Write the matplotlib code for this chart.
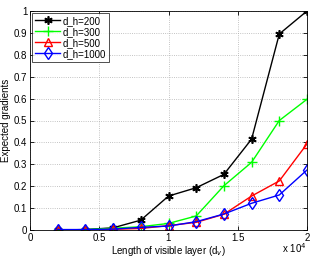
import matplotlib.pyplot as plt
from matplotlib.ticker import FuncFormatter

# length of visible layer d_v
d_v = [2000, 4000, 6000, 8000, 10000, 12000, 14000, 16000, 18000, 20000]
# expected gradients for each hidden layer size
g_200 = [0.0, 0.002, 0.010, 0.045, 0.155, 0.193, 0.254, 0.415, 0.895, 1.0]
g_300 = [0.0, 0.002, 0.008, 0.015, 0.030, 0.064, 0.202, 0.309, 0.500, 0.597]
g_500 = [0.0, 0.0, 0.003, 0.007, 0.020, 0.035, 0.072, 0.155, 0.224, 0.393]
g_1000 = [0.002, 0.002, 0.004, 0.012, 0.018, 0.038, 0.073, 0.122, 0.160, 0.274]
labels = ['d_h=200', 'd_h=300', 'd_h=500', 'd_h=1000']

plt.rcParams['font.family'] = ['Liberation Sans', 'DejaVu Sans']
fs = 7

fig = plt.figure(figsize=(3.16, 2.57), dpi=100)
ax = fig.add_axes([30 / 316, 27 / 257, 277 / 316, 219 / 257])

ax.plot(d_v, g_200, color='k', marker=(6, 2, 0), ms=6, mew=1.2, lw=1, label=labels[0])
ax.plot(d_v, g_300, color='#00ff00', marker='+', ms=7, mew=1, lw=1, label=labels[1])
ax.plot(d_v, g_500, color='r', marker='^', ms=6, mfc='none', lw=1, label=labels[2])
ax.plot(d_v, g_1000, color='b', marker='d', ms=6, mfc='none', lw=1, label=labels[3])

ax.set_xlim(0, 20000)
ax.set_ylim(0, 1)
ax.set_xticks([0, 5000, 10000, 15000, 20000])
ax.set_yticks([i / 10 for i in range(11)])
ax.xaxis.set_major_formatter(FuncFormatter(lambda v, p: '%g' % (v / 1e4)))
ax.yaxis.set_major_formatter(FuncFormatter(lambda v, p: '%g' % v))
ax.tick_params(direction='in', labelsize=fs, length=3, width=0.6, top=True, right=True, pad=2)
ax.grid(True, linestyle=':', color='#b0b0b0', lw=0.6)
for s in ax.spines.values():
    s.set_linewidth(0.6)

ax.set_xlabel('Length of visible layer (d$_v$)', fontsize=fs, labelpad=1)
ax.set_ylabel('Expected gradients', fontsize=fs, labelpad=2)
ax.text(1.0, -0.05, 'x 10$^4$', transform=ax.transAxes, fontsize=fs, ha='right', va='top')

leg = ax.legend(loc='upper left', fontsize=fs, frameon=True, fancybox=False,
                edgecolor='k', borderpad=0.3, labelspacing=0.1, handlelength=2.6,
                handletextpad=0.3, borderaxespad=0.2)
leg.get_frame().set_linewidth(0.6)

fig.savefig('out.png', dpi=100)
